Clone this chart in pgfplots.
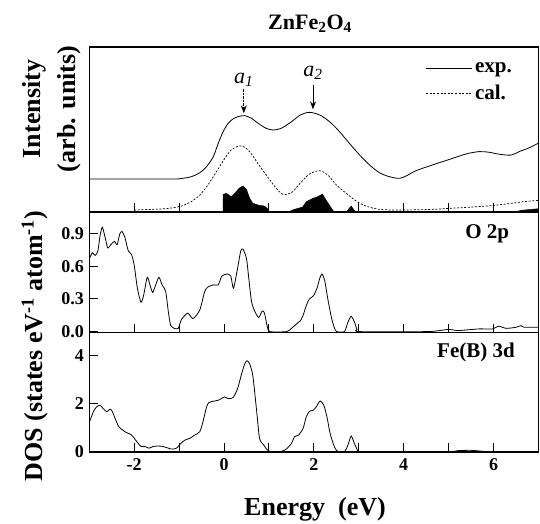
\documentclass[border=0pt]{standalone}
\usepackage{fontspec}
\setmainfont{Liberation Serif}
\usepackage{pgfplots}
\pgfplotsset{compat=1.18}
\usetikzlibrary{arrows.meta}
\newcommand\fs[1]{\fontsize{#1}{#1}\selectfont}
\pgfplotsset{
  panel/.style={
    scale only axis, width=449.2pt, anchor=south west,
    xmin=-3, xmax=7, xtick={-2,-1,...,6},
    tick align=inside, xtick pos=bottom, ytick pos=left,
    major tick length=9pt,
    axis line style={line width=1.2pt},
    every tick/.style={line width=1pt, black},
    /pgf/number format/assume math mode=true,
    xticklabel style={font=\fs{18}\bfseries, yshift=-3pt},
    yticklabel style={font=\fs{18}\bfseries, xshift=-2pt},
  },
  curve/.style={black, line width=0.8pt, smooth, tension=0.4},
}
\begin{document}
\begin{tikzpicture}
\path[use as bounding box] (0,0) rectangle (540pt,523pt);
% ---------- top panel ----------
\begin{axis}[panel, at={(89.3pt,311pt)}, height=165pt,
  ymin=0, ymax=1, ytick=\empty, xticklabels={},
  legend style={draw=none, fill=none, at={(rel axis cs:0.7485,0.92)}, anchor=north west,
    font=\fs{21}\bfseries, row sep=6pt, inner sep=0pt, nodes={inner sep=2.5pt}},
  legend cell align=left,
  legend image code/.code={\draw[#1] (0pt,0pt) -- (46pt,0pt);},
]
\addplot[fill=black, draw=black, line width=0.4pt, forget plot] coordinates {
(-0.02,0) (-0.02,0.107) (0.05,0.113) (0.16,0.093) (0.24,0.113) (0.33,0.143) (0.42,0.158)
(0.50,0.137) (0.57,0.083) (0.64,0.053) (0.76,0.042) (0.90,0.036) (0.96,0.022) (1.02,0)
(1.45,0) (1.50,0.01) (1.64,0.022) (1.75,0.03) (1.83,0.063) (1.98,0.083) (2.09,0.093)
(2.19,0.109) (2.27,0.073) (2.36,0.036) (2.42,0.01) (2.46,0) (2.72,0) (2.78,0.02)
(2.83,0.036) (2.90,0.01) (2.95,0) (6.5,0) (6.6,0.01) (7.0,0.02)} \closedcycle;
\addplot[black, line width=0.8pt, smooth] coordinates {
(-3,0.2) (-1.2,0.2) (-0.95,0.203) (-0.73,0.214) (-0.54,0.238) (-0.39,0.275) (-0.24,0.335)
(-0.13,0.416) (-0.02,0.487) (0.09,0.537) (0.20,0.564) (0.31,0.578) (0.46,0.584) (0.61,0.568)
(0.76,0.537) (0.94,0.507) (1.09,0.497) (1.27,0.507) (1.50,0.547) (1.70,0.588) (1.90,0.604)
(2.13,0.588) (2.35,0.547) (2.57,0.487) (2.79,0.416) (3.02,0.345) (3.24,0.285) (3.46,0.238)
(3.68,0.214) (3.90,0.204) (4.05,0.218) (4.27,0.25) (4.64,0.285) (5.02,0.319) (5.39,0.352)
(5.68,0.366) (5.9,0.362) (6.13,0.35) (6.39,0.345) (6.57,0.366) (6.8,0.39) (7.0,0.418)};
\addlegendentry{exp.}
\addplot[black, line width=0.7pt, smooth, dash pattern=on 2pt off 1.6pt] coordinates {
(-2,0.012) (-1.6,0.016) (-1.24,0.022) (-0.95,0.036) (-0.73,0.063) (-0.54,0.103) (-0.36,0.164)
(-0.17,0.244) (0.015,0.325) (0.16,0.376) (0.33,0.40) (0.46,0.392) (0.61,0.352) (0.76,0.291)
(0.94,0.224) (1.13,0.154) (1.31,0.107) (1.50,0.117) (1.68,0.17) (1.9,0.23) (2.13,0.25)
(2.31,0.224) (2.5,0.164) (2.72,0.113) (2.94,0.067) (3.16,0.036) (3.46,0.016) (3.9,0.012)
(4.64,0.016) (5.02,0.022) (5.39,0.028) (5.83,0.036) (6.27,0.048) (6.68,0.063) (7,0.07)};
\addlegendentry{cal.}
\node[font=\fs{22}\itshape] at (axis cs:0.44,0.80) {a\textsubscript{1}};
\node[font=\fs{22}\itshape] at (axis cs:1.98,0.845) {a\textsubscript{2}};
\draw[line width=0.8pt, dash pattern=on 2.5pt off 1pt, -{Stealth[length=8pt,width=6pt]}] (axis cs:0.44,0.745) -- (axis cs:0.44,0.598);
\draw[line width=0.8pt, -{Stealth[length=8pt,width=6pt]}] (axis cs:1.98,0.77) -- (axis cs:1.98,0.622);
\end{axis}
% ---------- middle panel: O 2p ----------
\begin{axis}[panel, at={(89.3pt,190.3pt)}, height=120.7pt,
  ymin=-0.01, ymax=1.1, ytick={0,0.3,0.6,0.9}, yticklabels={0.0,0.3,0.6,0.9},
  xticklabels={}]
\addplot[curve] coordinates {
(-3.0,0.67) (-2.93,0.726) (-2.87,0.70) (-2.81,0.74) (-2.76,0.884) (-2.71,0.96) (-2.65,0.87)
(-2.59,0.77) (-2.52,0.80) (-2.44,0.83) (-2.38,0.80) (-2.32,0.90) (-2.27,0.92) (-2.21,0.87)
(-2.13,0.74) (-2.06,0.71) (-2.0,0.61) (-1.93,0.40) (-1.85,0.27) (-1.79,0.335) (-1.71,0.50)
(-1.65,0.43) (-1.59,0.36) (-1.53,0.42) (-1.45,0.50) (-1.38,0.43) (-1.30,0.37) (-1.24,0.18)
(-1.19,0.06) (-1.11,0.03) (-1.02,0.03) (-0.95,0.11) (-0.81,0.17) (-0.69,0.12) (-0.54,0.20)
(-0.43,0.37) (-0.36,0.41) (-0.24,0.43) (-0.13,0.43) (-0.05,0.51) (0.07,0.53) (0.15,0.51)
(0.21,0.40) (0.30,0.58) (0.37,0.74) (0.42,0.76) (0.50,0.67) (0.55,0.49) (0.61,0.28)
(0.68,0.19) (0.77,0.13) (0.85,0.19) (0.90,0.17) (0.96,0.05) (1.02,0.0) (1.39,0.0)
(1.50,0.03) (1.64,0.08) (1.70,0.10) (1.76,0.15) (1.83,0.24) (1.90,0.30) (1.99,0.33)
(2.07,0.40) (2.13,0.49) (2.18,0.53) (2.24,0.47) (2.31,0.30) (2.39,0.13) (2.46,0.03)
(2.51,0.0) (2.68,0.0) (2.76,0.09) (2.83,0.14) (2.90,0.09) (2.96,0.02) (3.02,0.0)
(4.5,0.0) (4.8,0.01) (5.0,0.02) (5.2,0.01) (5.39,0.015) (5.68,0.025) (5.98,0.025)
(6.11,0.05) (6.28,0.03) (6.5,0.04) (6.61,0.055) (6.68,0.04) (7.0,0.04)};
\node[anchor=east, font=\fs{21}\bfseries] at (rel axis cs:0.9426,0.818) {O 2p};
\end{axis}
% ---------- bottom panel: Fe(B) 3d ----------
\begin{axis}[panel, at={(89.3pt,71pt)}, height=119.3pt,
  ymin=-0.02, ymax=4.96, ytick={0,2,4}, yticklabels={0,2,4},
  xticklabels={-2,,0,,2,,4,,6}]
\addplot[curve] coordinates {
(-3.0,1.21) (-2.91,1.66) (-2.84,1.86) (-2.76,1.93) (-2.69,1.79) (-2.61,1.66) (-2.54,1.77)
(-2.49,1.68) (-2.41,1.31) (-2.34,1.03) (-2.21,0.83) (-2.06,0.69) (-1.97,0.48) (-1.85,0.21)
(-1.76,0.21) (-1.67,0.14) (-1.58,0.21) (-1.47,0.23) (-1.36,0.21) (-1.24,0.14) (-1.16,0.10)
(-1.06,0.14) (-0.96,0.34) (-0.87,0.48) (-0.76,0.55) (-0.65,0.69) (-0.54,0.83) (-0.47,1.24)
(-0.39,1.86) (-0.34,2.04) (-0.24,2.10) (-0.13,2.14) (-0.06,2.21) (0.015,2.28) (0.09,2.21)
(0.20,2.25) (0.30,2.62) (0.39,3.24) (0.46,3.66) (0.51,3.79) (0.57,3.66) (0.64,3.17)
(0.72,1.79) (0.79,0.55) (0.88,0.28) (0.96,0.07) (1.02,0) (1.27,0) (1.39,0.11) (1.50,0.34)
(1.57,0.62) (1.66,0.69) (1.76,0.97) (1.83,1.45) (1.90,1.68) (1.98,1.72) (2.05,1.86)
(2.14,2.11) (2.22,1.93) (2.29,1.45) (2.36,0.76) (2.44,0.28) (2.51,0.03) (2.68,0)
(2.76,0.28) (2.83,0.65) (2.90,0.34) (2.98,0.03) (3.05,0) (5.0,0) (5.2,0.04) (5.5,0.05)
(5.7,0.02) (5.9,0) (7,0)};
\node[anchor=east, font=\fs{21}\bfseries] at (rel axis cs:0.955,0.838) {Fe(B) 3d};
\end{axis}
% ---------- titles and axis labels ----------
\node[font=\fs{22}\bfseries] at (310pt,499pt) {ZnFe\textsubscript{2}O\textsubscript{4}};
\node[rotate=90, align=center, font=\fs{26}\bfseries] at (52pt,414pt) {Intensity\\[9pt](arb. units)};
\node[rotate=90, font=\fs{26}\bfseries] at (35pt,177pt) {DOS (states eV\textsuperscript{-1} atom\textsuperscript{-1})};
\node[anchor=base, font=\fs{26}\bfseries] at (315pt,8pt) {Energy\hspace{0.5em}(eV)};
\end{tikzpicture}
\end{document}
